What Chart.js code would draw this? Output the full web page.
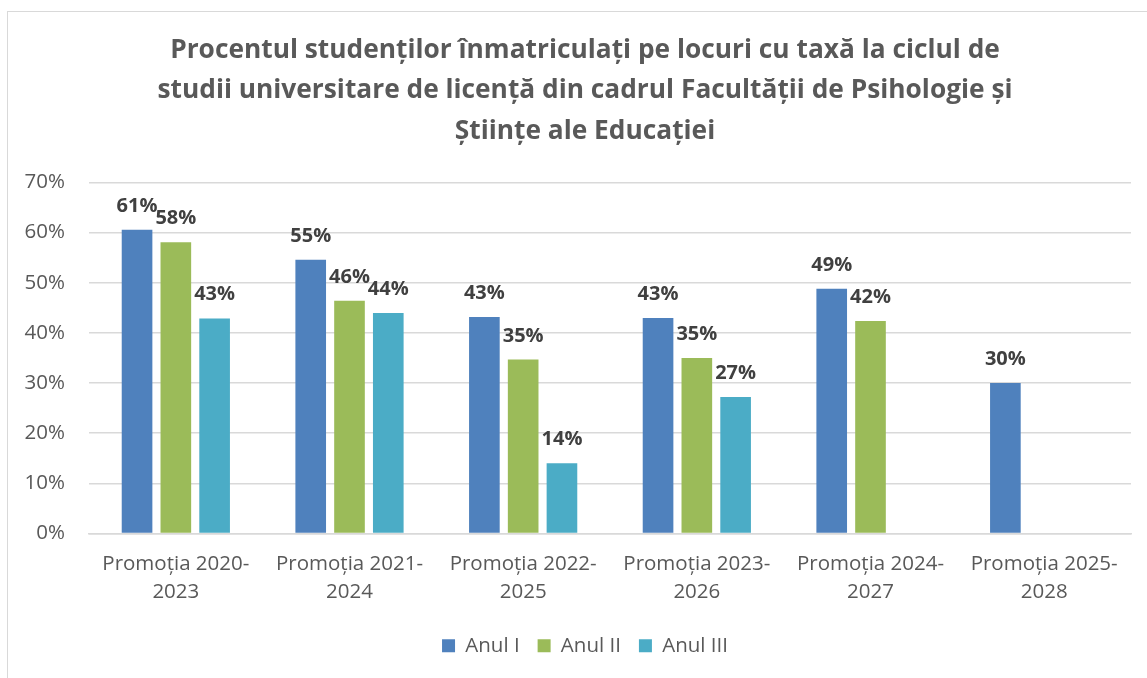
<!DOCTYPE html>
<html>
<head>
<meta charset="utf-8">
<script src="https://cdn.jsdelivr.net/npm/chart.js@4"></script>
<style>
  html, body { margin: 0; padding: 0; background: #fff; overflow: hidden; }
  #frame {
    position: absolute; left: 7px; top: 11px; width: 1160px; height: 700px;
    border: 1.5px solid #d9d9d9; box-sizing: border-box;
  }
  #wrap { position: absolute; left: 0; top: 0; width: 1170px; height: 678px; }
</style>
</head>
<body>
<div id="frame"></div>
<div id="wrap"><canvas id="myChart"></canvas></div>
<script>
const categories = [
  ['Promoția 2020-', '2023'],
  ['Promoția 2021-', '2024'],
  ['Promoția 2022-', '2025'],
  ['Promoția 2023-', '2026'],
  ['Promoția 2024-', '2027'],
  ['Promoția 2025-', '2028']
]
const anulI = [60.6, 54.6, 43.2, 43.0, 48.8, 30.0]
const anulII = [58.1, 46.4, 34.7, 35.0, 42.4, null]
const anulIII = [42.9, 44.0, 14.0, 27.2, null, null]
const yTicks = [0, 10, 20, 30, 40, 50, 60, 70]
const titleLines = [
  'Procentul studenților înmatriculați pe locuri cu taxă la ciclul de',
  'studii universitare de licență din cadrul Facultății de Psihologie și',
  'Științe ale Educației'
]

const FONT = '"Open Sans", Lato, sans-serif'

// draws the rounded percentage above every bar
const valueLabels = {
  id: 'valueLabels',
  afterDatasetsDraw(chart) {
    const ctx = chart.ctx
    ctx.save()
    ctx.font = 'bold 20px ' + FONT
    ctx.fillStyle = '#404040'
    ctx.textAlign = 'center'
    ctx.textBaseline = 'alphabetic'
    chart.data.datasets.forEach(function (ds, i) {
      chart.getDatasetMeta(i).data.forEach(function (bar, j) {
        if (ds.data[j] == null) return
        ctx.fillText(Math.round(ds.data[j]) + '%', bar.x, bar.y - 18)
      })
    })
    ctx.restore()
  }
}

function updateGraph() {
  var ctx = document.getElementById('myChart').getContext('2d')
  var chart = new Chart(ctx, {
    type: 'bar',
    data: {
      labels: categories,
      datasets: [
        { label: 'Anul I', data: anulI, backgroundColor: '#4f81bd' },
        { label: 'Anul II', data: anulII, backgroundColor: '#9bbb59' },
        { label: 'Anul III', data: anulIII, backgroundColor: '#4bacc6' }
      ]
    },
    options: {
      responsive: true,
      maintainAspectRatio: false,
      animation: false,
      layout: { padding: { top: 12, left: 0, right: 0, bottom: 12 } },
      datasets: { bar: { categoryPercentage: 0.67, barPercentage: 0.79 } },
      plugins: {
        title: {
          display: true,
          text: titleLines,
          color: '#595959',
          font: { family: FONT, size: 26.3, weight: 'bold', lineHeight: 1.54 },
          padding: { top: 18, bottom: 31 }
        },
        legend: {
          position: 'bottom',
          labels: {
            color: '#595959',
            font: { family: FONT, size: 20.5 },
            boxWidth: 13,
            boxHeight: 13,
            padding: 18
          }
        },
        tooltip: { enabled: false }
      },
      scales: {
        x: {
          grid: { display: false },
          border: { color: '#d9d9d9', width: 1.5 },
          afterFit: function (axis) { axis.height = 84 },
          ticks: {
            color: '#595959',
            font: { family: FONT, size: 20.5, lineHeight: 1.37 },
            padding: 9,
            maxRotation: 0
          }
        },
        y: {
          min: 0,
          max: 70,
          grid: { color: '#d9d9d9', lineWidth: 1.5, drawTicks: false },
          border: { display: false },
          afterFit: function (axis) { axis.width = 89 },
          afterBuildTicks: function (axis) {
            axis.ticks = yTicks.map(function (v) { return { value: v } })
          },
          ticks: {
            color: '#595959',
            font: { family: FONT, size: 20.5 },
            padding: 24,
            callback: function (v) { return v + '%' }
          }
        },
        // empty right margin so the title sits where the original has it
        yRight: {
          position: 'right',
          grid: { display: false },
          border: { display: false },
          ticks: { display: false },
          afterFit: function (axis) { axis.width = 39 }
        }
      }
    },
    plugins: [valueLabels]
  })
}
updateGraph()
</script>
</body>
</html>
